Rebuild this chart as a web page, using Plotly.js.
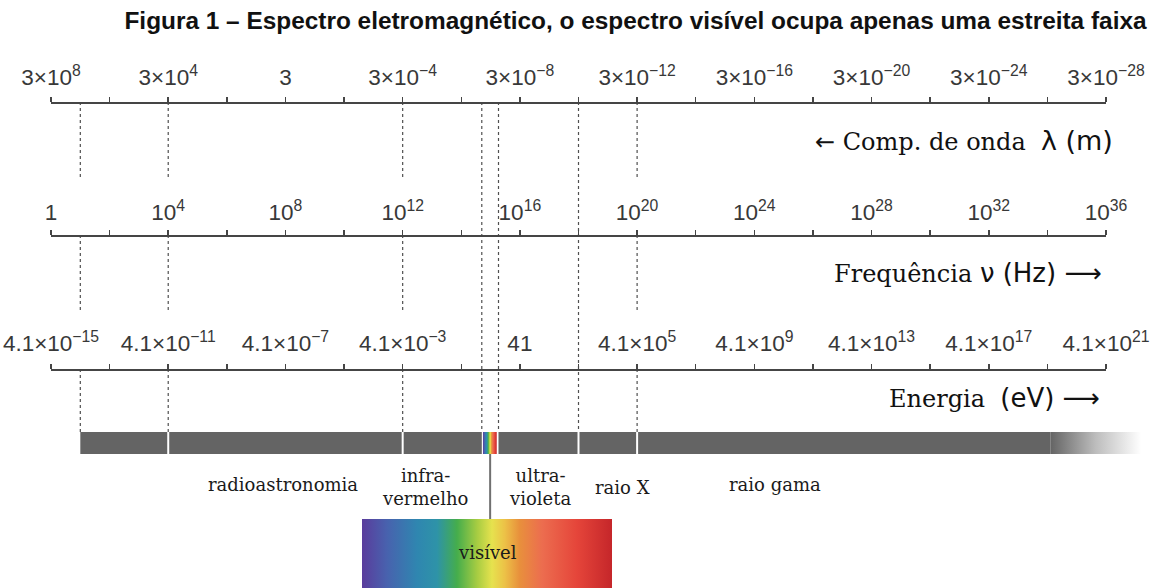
<!DOCTYPE html>
<html><head><meta charset="utf-8">
<script src="https://cdn.plot.ly/plotly-3.0.1.min.js"></script>
<style>
html,body{margin:0;padding:0;background:#fff}
</style>
</head><body><div id="chart" style="width:1171px;height:588px"></div>
<script>
// ---------------- DATA (x = log10 of frequency in Hz) ----------------
const labelDecades = [0,4,8,12,16,20,24,28,32,36];
const minorTickStep = 2;
const wavelengthLabels = ['3×10<sup>8</sup>','3×10<sup>4</sup>','3','3×10<sup>−4</sup>','3×10<sup>−8</sup>','3×10<sup>−12</sup>','3×10<sup>−16</sup>','3×10<sup>−20</sup>','3×10<sup>−24</sup>','3×10<sup>−28</sup>'];
const frequencyLabels = ['1','10<sup>4</sup>','10<sup>8</sup>','10<sup>12</sup>','10<sup>16</sup>','10<sup>20</sup>','10<sup>24</sup>','10<sup>28</sup>','10<sup>32</sup>','10<sup>36</sup>'];
const energyLabels = ['4.1×10<sup>−15</sup>','4.1×10<sup>−11</sup>','4.1×10<sup>−7</sup>','4.1×10<sup>−3</sup>','41','4.1×10<sup>5</sup>','4.1×10<sup>9</sup>','4.1×10<sup>13</sup>','4.1×10<sup>17</sup>','4.1×10<sup>21</sup>'];

const spectrumStart = 1;
const spectrumSolidEnd = 34.1;
const spectrumFadeEnd = 37.2;
const boundaryDecades = [1, 4, 12, 14.7, 15.27, 18, 20];
const gappedBoundaries = [1, 4, 12, 20];
const separatorDecades = [4, 12, 18, 20];
const visibleBand = [14.7, 15.27];

const bandNames = ['radioastronomia','infra-<br>vermelho','ultra-<br>violeta','raio X','raio gama'];
const bandLabelDecades = [7.9, 12.75, 16.7, 19.5, 24.7];

const visibleNm = [380, 750];
const visibleColors = [
  [0.00,'#5a3c9c'],[0.10,'#4862ae'],[0.22,'#2f86b0'],[0.30,'#2e93a8'],
  [0.38,'#45ad4c'],[0.46,'#a6cc42'],[0.52,'#e6e24e'],[0.57,'#ecc247'],
  [0.63,'#e8903c'],[0.72,'#ec6d4f'],[0.86,'#e5453a'],[1.00,'#c5262a']
];
const barGray = '#646464';

// ---------------- LAYOUT GEOMETRY ----------------
const W = 1171, H = 588;
const axisLeftPx = 51, axisRightPx = 1106;
const px = x => x / W;
const py = y => 1 - y / H;
const rowWave = 102, rowFreq = 235, rowEnergy = 369;
const barTop = 432, barBottom = 454;
const insetTop = 519, insetLeft = 362, insetRight = 612;
const dashSegs = [[rowWave, 177], [rowFreq, 313], [rowEnergy, barTop]];

const axisMin = labelDecades[0], axisMax = labelDecades[labelDecades.length-1];
const decPerPx = (axisMax - axisMin) / (axisRightPx - axisLeftPx);
const fullRange = [axisMin - axisLeftPx*decPerPx, axisMin + (W-axisLeftPx)*decPerPx];

function scaleAxis(yPix, labels, standoff){
  return {
    domain:[px(axisLeftPx), px(axisRightPx)], range:[axisMin, axisMax],
    anchor:'free', position: py(yPix), side:'top',
    showline:true, linecolor:'#454545', linewidth:1.6,
    ticks:'outside', ticklen:5, tickwidth:1.5, tickcolor:'#454545',
    tickmode:'array', tickvals: labelDecades, ticktext: labels, tickangle:0,
    minor:{tick0:axisMin, dtick:minorTickStep, ticks:'outside', ticklen:5, tickwidth:1.5, tickcolor:'#454545', showgrid:false},
    tickfont:{family:'Liberation Sans, Arial', size:22.5, color:'#383838'},
    ticklabelstandoff: standoff,
    showgrid:false, zeroline:false, fixedrange:true
  };
}

const shapes = [];
boundaryDecades.forEach(d => {
  const segs = gappedBoundaries.includes(d) ? dashSegs : [[rowWave, barTop]];
  segs.forEach(s => shapes.push({type:'line', xref:'x', yref:'paper', x0:d, x1:d, y0:py(s[0]), y1:py(s[1]),
    line:{color:'#505050', width:1.2, dash:'dot'}, layer:'below'}));
});
[[spectrumStart, visibleBand[0]], [visibleBand[1], spectrumSolidEnd]].forEach(seg => {
  shapes.push({type:'rect', xref:'x', yref:'paper', x0:seg[0], x1:seg[1], y0:py(barBottom), y1:py(barTop),
    fillcolor:barGray, line:{width:0}, layer:'below'});
});
separatorDecades.forEach(d => shapes.push({type:'line', xref:'x', yref:'paper', x0:d, x1:d, y0:py(barBottom), y1:py(barTop),
  line:{color:'#ffffff', width:2}, layer:'above'}));
const visCenter = (visibleBand[0] + visibleBand[1]) / 2;
shapes.push({type:'line', xref:'x', yref:'paper', x0:visCenter, x1:visCenter, y0:py(barBottom), y1:py(insetTop),
  line:{color:'#707070', width:2}, layer:'above'});

const traces = [];
const sx0 = visibleBand[0] + 0.04, sx1 = visibleBand[1] - 0.06;
traces.push({type:'scatter', mode:'lines', xaxis:'x', yaxis:'y',
  x:[sx0, sx1, sx1, sx0, sx0], y:[py(barBottom), py(barBottom), py(barTop), py(barTop), py(barBottom)],
  fill:'toself', line:{width:0}, hoverinfo:'skip',
  fillgradient:{type:'horizontal', colorscale: visibleColors, start: sx0, stop: sx1}});
traces.push({type:'scatter', mode:'lines', xaxis:'x', yaxis:'y',
  x:[spectrumSolidEnd, spectrumFadeEnd, spectrumFadeEnd, spectrumSolidEnd, spectrumSolidEnd],
  y:[py(barBottom), py(barBottom), py(barTop), py(barTop), py(barBottom)],
  fill:'toself', line:{width:0}, hoverinfo:'skip',
  fillgradient:{type:'horizontal', colorscale:[[0, barGray],[0.5,'#bdbdbd'],[1,'#ffffff']], start: spectrumSolidEnd, stop: spectrumFadeEnd}});
traces.push({type:'scatter', mode:'lines', xaxis:'x5', yaxis:'y5',
  x:[visibleNm[0], visibleNm[1], visibleNm[1], visibleNm[0], visibleNm[0]], y:[0,0,1,1,0],
  fill:'toself', line:{width:0}, hoverinfo:'skip',
  fillgradient:{type:'horizontal', colorscale: visibleColors, start: visibleNm[0], stop: visibleNm[1]}});
['x2','x3','x4'].forEach(a => traces.push({type:'scatter', mode:'markers', xaxis:a, yaxis:'y', x:[0], y:[-5],
  marker:{opacity:0}, hoverinfo:'skip', showlegend:false}));

const serif = 'DejaVu Serif, Liberation Serif, serif';
const annotations = [];
bandNames.forEach((n, i) => annotations.push({xref:'x', yref:'paper', x: bandLabelDecades[i],
  y: py(n.includes('<br>') ? 487 : (n === 'raio X' ? 487 : 484)),
  text:n, showarrow:false, xanchor:'center', yanchor:'middle', font:{family:serif, size:18, color:'#1a1a1a'}}));
annotations.push({xref:'x5', yref:'y5', x:(visibleNm[0]+visibleNm[1])/2, y:0.52, text:'visível', showarrow:false,
  font:{family:serif, size:18, color:'#1a1a1a'}});
annotations.push({xref:'paper', yref:'paper', x:px(1115), y:py(140), xanchor:'right', yanchor:'middle', showarrow:false,
  text:'<span style="font-family:DejaVu Sans;font-size:24px">←</span> Comp. de onda  <span style="font-family:DejaVu Sans;font-size:27px">λ (m)</span>',
  font:{family:serif, size:24, color:'#111'}});
annotations.push({xref:'paper', yref:'paper', x:px(1104), y:py(273), xanchor:'right', yanchor:'middle', showarrow:false,
  text:'Frequência <span style="font-family:DejaVu Sans;font-size:26px">ν (Hz) ⟶</span>',
  font:{family:serif, size:24, color:'#111'}});
annotations.push({xref:'paper', yref:'paper', x:px(1102), y:py(398), xanchor:'right', yanchor:'middle', showarrow:false,
  text:'Energia  <span style="font-family:DejaVu Sans;font-size:26px">(eV) ⟶</span>',
  font:{family:serif, size:24, color:'#111'}});

const layout = {
  width: W, height: H, margin:{l:0, r:0, t:0, b:0}, showlegend:false,
  paper_bgcolor:'#ffffff', plot_bgcolor:'rgba(0,0,0,0)',
  title:{text:'<b>Figura 1 – Espectro eletromagnético, o espectro visível ocupa apenas uma estreita faixa</b>',
    font:{family:'Liberation Sans, Arial, sans-serif', size:24.4, color:'#111'},
    xref:'container', yref:'container', x:px(635.5), xanchor:'center', y:1-20/H, yanchor:'middle'},
  xaxis:{domain:[0,1], range: fullRange, visible:false, fixedrange:true},
  yaxis:{domain:[0,1], range:[0,1], visible:false, fixedrange:true},
  xaxis2: scaleAxis(rowWave, wavelengthLabels, 3),
  xaxis3: scaleAxis(rowFreq, frequencyLabels, 1),
  xaxis4: scaleAxis(rowEnergy, energyLabels, 4),
  xaxis5:{domain:[px(insetLeft), px(insetRight)], range: visibleNm, anchor:'y5', visible:false, fixedrange:true},
  yaxis5:{domain:[0, py(insetTop)], range:[0,1], anchor:'x5', visible:false, fixedrange:true},
  shapes, annotations
};
Plotly.newPlot('chart', traces, layout, {staticPlot:true, displayModeBar:false});
</script></body></html>
